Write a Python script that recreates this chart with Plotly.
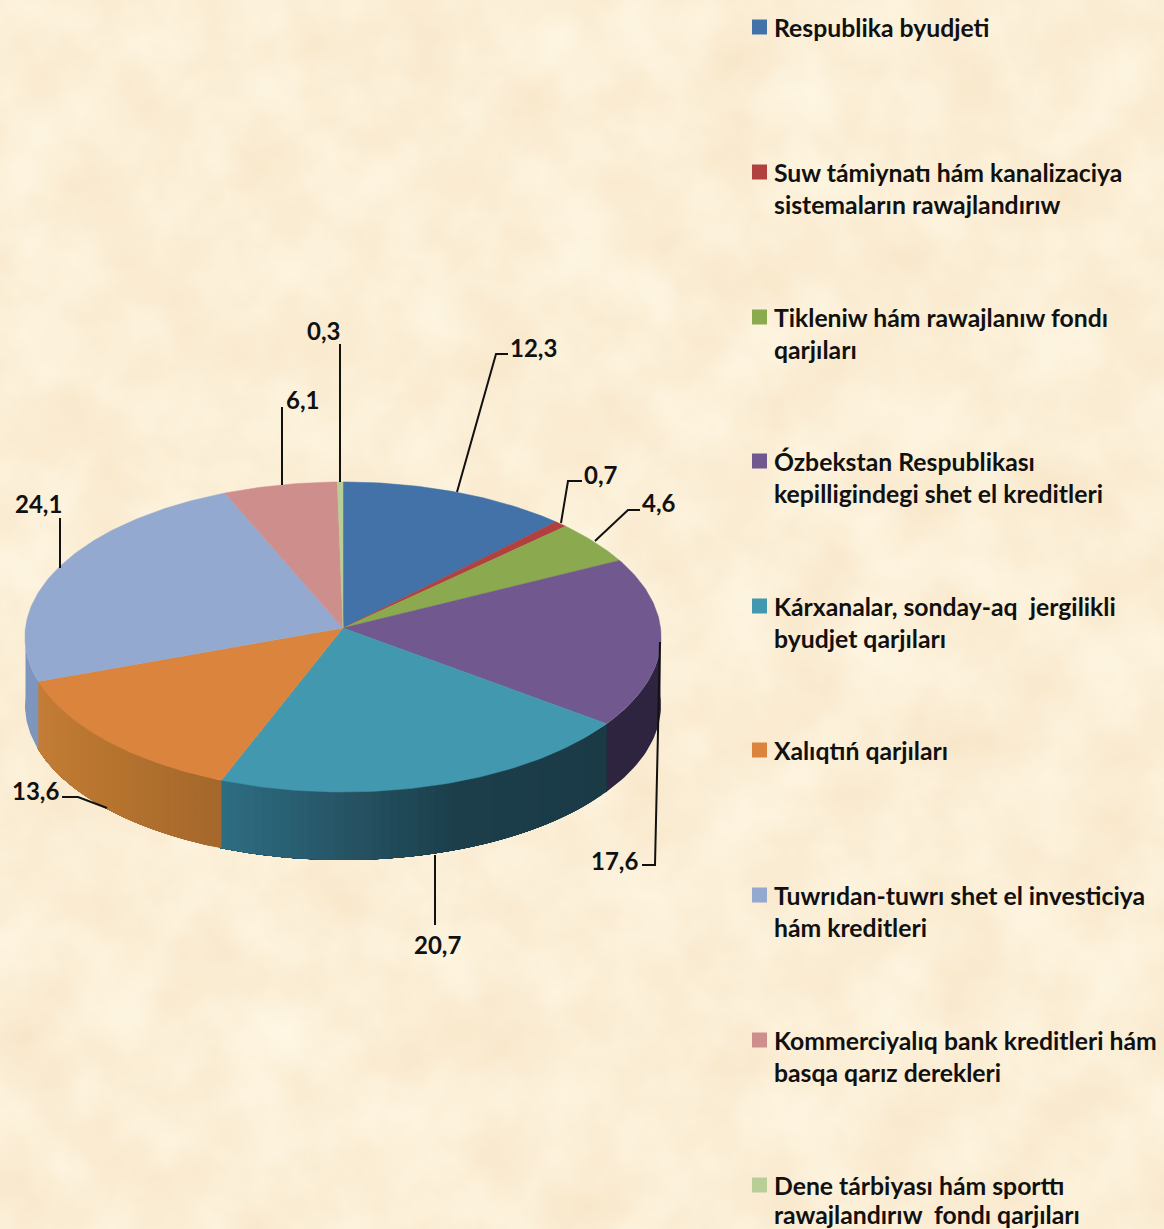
import base64
import numpy as np
import plotly.graph_objects as go

# Data
categories = [
    "Respublika byudjeti",
    "Suw támiynatı hám kanalizaciya<br>sistemaların rawajlandırıw",
    "Tikleniw hám rawajlanıw fondı<br>qarjıları",
    "Ózbekstan Respublikası<br>kepilligindegi shet el kreditleri",
    "Kárxanalar, sonday-aq  jergilikli<br>byudjet qarjıları",
    "Xalıqtıń qarjıları",
    "Tuwrıdan-tuwrı shet el investiciya<br>hám kreditleri",
    "Kommerciyalıq bank kreditleri hám<br>basqa qarız derekleri",
    "Dene tárbiyası hám sporttı<br>rawajlandırıw  fondı qarjıları",
]
values = [12.3, 0.7, 4.6, 17.6, 20.7, 13.6, 24.1, 6.1, 0.3]
value_labels = ["12,3", "0,7", "4,6", "17,6", "20,7", "13,6", "24,1", "6,1", "0,3"]

# Colours
top_colors = ["#4372A8", "#B0413E", "#8BA94E", "#71588F", "#4198AF",
              "#DB843D", "#93A9CF", "#CE8E8C", "#B9CD96"]
side_stops = {
    3: [(0, "#2E2440"), (1, "#2E2440")],
    4: [(0, "#1A3A46"), (0.45, "#1C3F4B"), (0.75, "#28586A"), (1, "#2E6E84")],
    5: [(0, "#A5682C"), (0.5, "#B8752F"), (1, "#C57E38")],
    6: [(0, "#7E95BE"), (1, "#7E95BE")],
}

# Pie geometry, in picture pixels (PERSP is the tilt perspective of the 3D pie)
CX, APEX_Y = 343, 628
RX, RY = 317.5, 154.5
PERSP = 0.058
DEPTH = 68

FONT = "Lato"


def edge(t_deg):
    t = np.radians(t_deg)
    s = 1 / (1 + PERSP * np.cos(t))
    return CX + RX * np.sin(t) * s, APEX_Y - RY * np.cos(t) * s


def hex_rgb(c):
    return np.array([int(c[i:i + 2], 16) for i in (1, 3, 5)], dtype=float)


def stop_color(stops, f):
    pos = [s[0] for s in stops]
    rgb = [hex_rgb(s[1]) for s in stops]
    r = [np.interp(f, pos, [c[i] for c in rgb]) for i in range(3)]
    return "rgb(%d,%d,%d)" % tuple(r)


# Parchment texture
svg = """<svg xmlns='http://www.w3.org/2000/svg' width='1164' height='1229'>
<filter id='p' color-interpolation-filters='sRGB' x='0' y='0' width='100%' height='100%'>
<feTurbulence type='fractalNoise' baseFrequency='0.013' numOctaves='4' seed='7'/>
<feColorMatrix type='matrix' values='0.03 0 0 0 0.97  0.08 0 0 0 0.895  0.13 0 0 0 0.775  0 0 0 0 1'/>
</filter>
<rect width='1164' height='1229' filter='url(#p)'/>
</svg>"""
texture = "data:image/svg+xml;base64," + base64.b64encode(svg.encode()).decode()

fig = go.Figure()

bounds = np.concatenate([[0], np.cumsum(values)]) * 3.6

# Pie sides (only the front half shows). Each gradient step is painted over the
# rest of its slice, so no seams show between the steps.
for i, stops in side_stops.items():
    t0 = max(bounds[i], 90)
    t1 = min(bounds[i + 1] + 0.3, 270)
    n_seg = 48 if len(stops) > 2 else 1
    steps = np.linspace(t0, t1, n_seg + 1)
    for k in range(n_seg):
        ts = np.linspace(steps[k], t1, 30)
        ex, ey = edge(ts)
        xs = np.concatenate([ex, ex[::-1], ex[:1]])
        ys = np.concatenate([ey, ey[::-1] + DEPTH, ey[:1]])
        col = stop_color(stops, (k + 0.5) / n_seg)
        fig.add_trace(go.Scatter(
            x=xs, y=ys, mode="lines", fill="toself", fillcolor=col,
            line=dict(color=col, width=0), hoverinfo="skip", showlegend=False
        ))

# Pie top
for i, v in enumerate(values):
    ts = np.linspace(bounds[i], bounds[i + 1], max(int(v * 4), 4))
    ex, ey = edge(ts)
    xs = np.concatenate([[CX], ex, [CX]])
    ys = np.concatenate([[APEX_Y], ey, [APEX_Y]])
    fig.add_trace(go.Scatter(
        x=xs, y=ys, mode="lines", fill="toself", fillcolor=top_colors[i],
        line=dict(color=top_colors[i], width=0.5), showlegend=False,
        name=categories[i].replace("<br>", " "), text=value_labels[i], hoverinfo="name+text"
    ))

# Leader lines and value labels
leaders = {
    "12,3": ([457, 496, 508], [492, 354, 354], 533, 347),
    "0,7": ([561, 568, 582], [523, 481, 481], 601, 474),
    "4,6": ([595, 628, 640], [541, 510, 510], 659, 502),
    "17,6": ([660, 655, 642], [642, 865, 865], 614, 860),
    "20,7": ([435, 435], [855, 925], 437, 944),
    "13,6": ([107, 78, 62], [808, 797, 797], 35, 790),
    "24,1": ([60, 60], [568, 518], 38, 503),
    "6,1": ([282, 282], [485, 407], 302, 399),
    "0,3": ([340, 340], [482, 344], 323, 330),
}
for lab in value_labels:
    lx, ly, tx, ty = leaders[lab]
    fig.add_trace(go.Scatter(
        x=lx, y=ly, mode="lines", line=dict(color="#111111", width=2),
        hoverinfo="skip", showlegend=False
    ))
    fig.add_annotation(
        x=tx, y=ty, text=lab, showarrow=False, xanchor="center", yanchor="middle",
        font=dict(family=FONT, size=24, color="#111111", weight="bold")
    )

# Legend, drawn by hand to keep the wide row spacing
legend_y = [27, 172, 317, 461, 606, 750, 895, 1040, 1185]
fig.add_trace(go.Scatter(
    x=[759.5] * len(categories), y=legend_y, mode="markers",
    marker=dict(symbol="square", size=15, color=top_colors, line=dict(width=0)),
    hoverinfo="skip", showlegend=False
))
for cat, y in zip(categories, legend_y):
    for j, line in enumerate(cat.split("<br>")):
        # last line sits right on the picture's bottom edge, keep its box inside
        fig.add_annotation(
            x=774, y=min(y + j * 32, 1214), text=line.replace(" ", "\u00a0"), showarrow=False,
            xanchor="left", yanchor="middle", xshift=-2,
            font=dict(family=FONT, size=24.75, color="#111111", weight="bold")
        )

fig.update_layout(
    width=1164, height=1229,
    margin=dict(l=0, r=0, t=0, b=0),
    paper_bgcolor="#FBEDD2", plot_bgcolor="rgba(0,0,0,0)",
    xaxis=dict(range=[0, 1164], visible=False, fixedrange=True),
    yaxis=dict(range=[1229, 0], visible=False, fixedrange=True),
    images=[dict(source=texture, xref="paper", yref="paper", x=0, y=1, sizex=1, sizey=1,
                 sizing="stretch", xanchor="left", yanchor="top", layer="below")],
    showlegend=False,
)

fig.write_html("out.html", config=dict(displayModeBar=False),
               post_script="document.body.style.margin='0';document.body.style.overflow='hidden';")
